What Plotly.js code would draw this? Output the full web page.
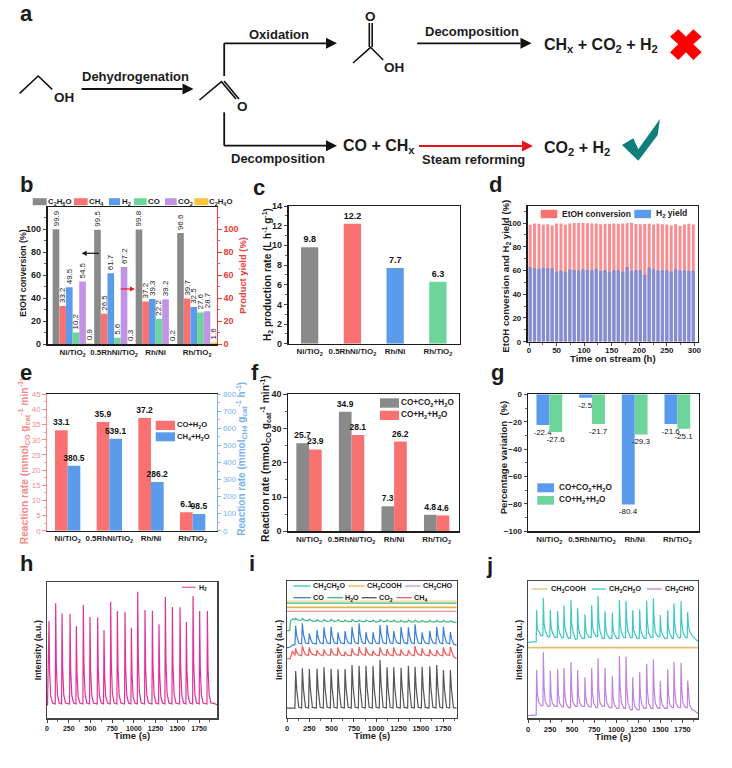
<!DOCTYPE html>
<html><head><meta charset="utf-8">
<script src="https://cdn.plot.ly/plotly-3.0.1.min.js"></script>
<style>html,body{margin:0;padding:0;background:#fff}#g{width:732px;height:768px}</style>
</head><body><div id="g"></div>
<script>
// ---------- data ----------
const catalysts = ['Ni/TiO<sub>2</sub>','0.5RhNi/TiO<sub>2</sub>','Rh/Ni','Rh/TiO<sub>2</sub>'];
const bNames = ['C<sub>2</sub>H<sub>6</sub>O','CH<sub>4</sub>','H<sub>2</sub>','CO','CO<sub>2</sub>','C<sub>2</sub>H<sub>4</sub>O'];
const bC2H6O = [99.9,99.5,99.8,96.6];
const bCH4 = [33.2,26.5,37.2,39.7];
const bH2 = [49.5,61.7,39.3,32.5];
const bCO = [10.2,5.6,22.2,27.6];
const bCO2 = [54.5,67.2,39.2,28.7];
const bC2H4O = [0.9,0.3,0.2,1.6];
const cRate = [9.8,12.2,7.7,6.3];
const dHours = [2,10,18,26,34,42,50,58,66,74,82,90,98,106,114,122,130,138,146,154,162,170,178,186,194,202,210,218,226,234,242,250,258,266,274,282,290,298];
const dConversion = [98.5,99.5,99.3,98.8,99,98,99.5,99.7,98.5,99.5,100,100,100,99.8,99.7,99.7,99,99.3,99.3,99.5,99.3,99.7,99.9,100,99.2,98.9,99.2,99.3,98.7,99.5,99,98.8,98,99,97.5,98.8,99.3,98.7];
const dYield = [63,62,61.5,62.5,62,62,59,60,59,61,60.5,60,61,60.5,60.5,61.5,59.5,60.5,59,60.5,60.5,59,63,59.5,60.5,60.5,56.5,62.5,61,60,60.5,60.5,59,61.5,60,60.5,59.5,60];
const eCO = [33.1,35.9,37.2,6.1];
const eCH4 = [380.5,539.1,286.2,98.5];
const fCO2 = [25.7,34.9,7.3,4.8];
const fH2 = [23.9,28.1,26.2,4.6];
const gCO2 = [-22.4,-2.5,-80.4,-21.6];
const gH2 = [-27.6,-21.7,-29.3,-25.1];

const hTime = [0,6,23,30,43,63, 95,100,107,120,140, 168,173,180,193,213, 260,265,272,285,305, 333,338,345,358,378, 413,418,425,438,458, 490,495,502,515,535, 578,583,590,603,623, 651,656,663,676,696, 728,733,740,753,773, 805,810,817,830,850, 893,898,905,918,938, 966,971,978,991,1011, 1039,1044,1051,1064,1084, 1123,1128,1135,1148,1168, 1208,1213,1220,1233,1253, 1284,1289,1296,1309,1329, 1357,1362,1369,1382,1402, 1438,1443,1450,1463,1483, 1526,1531,1538,1551,1571, 1599,1604,1611,1624,1644, 1676,1681,1688,1701,1721, 1752,1757,1764,1777,1797, 1841,1846,1853,1866,1886, 1920,1960];
const hH2 = [40,40,292,143,68,46, 43,345,164,73,46, 43,315,152,70,46, 43,313,151,70,46, 43,277,137,66,46, 43,340,162,73,46, 43,304,147,69,46, 43,303,147,69,46, 43,265,132,65,46, 43,350,166,74,46, 43,322,155,71,46, 43,320,154,71,46, 43,271,134,66,46, 43,380,178,77,46, 43,325,156,71,46, 43,323,155,71,46, 43,282,139,67,46, 43,364,171,75,46, 43,334,159,72,46, 43,333,159,72,46, 43,289,141,68,46, 43,367,173,75,46, 43,322,155,71,46, 43,322,155,71,46, 45,40];

const iTime = [0,30,38,60, 89,97,109,132, 164,172,184,207, 242,250,262,285, 329,337,349,372, 407,415,427,450, 486,494,506,529, 564,572,584,607, 643,651,663,686, 721,729,741,764, 800,808,820,843, 878,886,898,921, 957,965,977,1000, 1035,1043,1055,1078, 1114,1122,1134,1157, 1189,1197,1209,1232, 1271,1279,1291,1314, 1353,1361,1373,1396, 1428,1436,1448,1471, 1507,1515,1527,1550, 1593,1601,1613,1636, 1671,1679,1691,1714, 1746,1754,1766,1789, 1824,1832,1844,1867, 1903];
const iCO2 = [29,29,29,29, 29,140,84,31, 29,148,88,31, 29,146,87,31, 29,147,88,31, 29,151,90,31, 29,147,88,31, 29,145,87,31, 29,146,88,31, 29,158,94,31, 29,156,92,31, 29,156,92,31, 29,156,92,31, 29,173,101,31, 29,151,90,31, 29,151,90,31, 29,150,90,31, 29,156,92,31, 29,153,91,31, 29,153,91,31, 29,154,91,31, 29,158,94,31, 29,143,86,31, 29,143,86,30, 29];
const iCH4 = [176,176,178,200, 187,208,196,188, 186,216,203,189, 187,211,199,190, 187,203,195,189, 186,205,195,188, 187,208,197,189, 187,211,199,188, 186,198,192,187, 186,208,197,189, 187,213,200,190, 187,211,198,189, 187,201,194,188, 186,211,199,189, 187,206,196,188, 186,211,199,189, 187,205,196,188, 187,203,195,188, 186,215,201,190, 187,208,197,188, 186,205,195,188, 186,203,195,188, 186,211,198,189, 187,213,200,183, 177];
const iCO = [210,210,212,218, 219,276,246,224, 221,283,251,225, 222,253,238,224, 221,263,241,225, 222,271,246,225, 222,273,247,225, 222,256,238,224, 222,260,240,225, 222,273,247,225, 222,283,251,225, 222,257,238,225, 222,256,238,224, 222,278,249,225, 222,278,249,225, 222,260,240,225, 222,273,247,225, 222,271,246,225, 222,280,250,225, 222,256,238,224, 222,261,240,225, 222,273,246,225, 222,273,247,225, 222,257,238,222, 217];
const iH2O = [261,261,289,296, 294,298,296,292, 293,297,295,291, 291,296,294,290, 290,294,292,288, 290,294,292,289, 290,295,292,289, 290,294,292,288, 289,293,291,288, 289,294,292,288, 289,293,291,288, 289,293,291,288, 289,293,291,287, 289,294,292,288, 289,293,291,288, 289,293,291,287, 288,292,290,287, 288,293,291,287, 288,293,291,287, 288,292,290,287, 288,292,290,287, 288,292,290,287, 288,292,290,287, 288,291,289,286, 286];
const iFlatTime = [0,1903];
const iCH3CH2O = [344,344];
const iCH3COOH = [331,331];
const iCH3CHO = [319,319];
const iPale = [349,349];

const jTime = [0,88, 93,98,106,120,148, 169,174,182,196,224, 248,253,261,275,303, 331,336,344,358,386, 403,408,416,430,458, 482,487,495,509,537, 558,563,571,585,613, 641,646,654,668,696, 717,722,730,744,772, 789,794,802,816,844, 868,873,881,895,923, 951,956,964,978,1006, 1031,1036,1044,1058,1086, 1106,1111,1119,1133,1161, 1182,1187,1195,1209,1237, 1261,1266,1274,1288,1316, 1340,1345,1353,1367,1395, 1416,1421,1429,1443,1471, 1495,1500,1508,1522,1550, 1579,1584,1592,1606,1634, 1650,1655,1663,1677,1705, 1730,1735,1743,1757,1785, 1805,1810,1818,1832,1860, 1890,1927];
const jCH3CH2O = [228,228, 230,325,268,262,248, 248,362,285,262,245, 245,325,275,258,243, 243,322,272,256,241, 243,339,280,258,240, 240,355,285,262,237, 238,330,272,254,240, 240,312,268,252,243, 243,339,282,258,245, 245,367,295,262,240, 240,321,272,252,240, 240,317,270,252,240, 240,355,290,258,242, 242,352,292,262,242, 242,324,268,256,240, 240,327,272,254,240, 240,353,290,256,243, 243,360,295,258,245, 245,310,268,252,240, 240,325,272,254,240, 240,345,285,256,242, 242,351,288,258,242, 242,320,280,262,248, 240,230];
const jCH3CHO = [8,8, 10,145,75,48,38, 38,198,95,50,36, 36,143,72,46,36, 36,148,75,46,34, 34,151,78,46,32, 32,169,85,48,36, 36,144,72,46,36, 36,123,65,44,34, 34,151,78,46,32, 32,180,90,46,36, 36,151,78,46,32, 32,127,65,42,30, 30,188,95,48,30, 30,185,95,46,25, 25,123,65,36,26, 26,139,72,44,30, 30,164,85,46,30, 30,177,90,46,30, 30,112,62,40,30, 30,147,75,42,32, 32,170,88,46,32, 32,167,85,46,32, 32,113,78,40,26, 22,14];
const jFlatTime = [0,1927];
const jCH3COOH = [212,212];

// ---------- styling ----------
const W=732,H=768, FONT='"Liberation Sans", Arial, sans-serif';
const GRAY='#8a8a8a',RED='#f87272',BLUE='#5b9bec',GREEN='#6dd59a',PURPLE='#c193e4',YELLOW='#f7c63e';
const X=p=>p/W, Y=p=>1-p/H;
const dom=(a,b)=>[a/W,b/W], domY=(t,b)=>[1-b/H,1-t/H];
const INK='#1c1c1c';
const fnt=(s,c,w)=>({family:FONT,size:s,color:c||INK,weight:w===undefined?700:w});
const shapes=[],anns=[],traces=[];

function txt(x,y,text,size,opt){opt=opt||{};
  anns.push({xref:'paper',yref:'paper',x:X(x),y:Y(y),text,showarrow:false,xanchor:opt.anchor||'center',yanchor:'middle',
    font:fnt(size,opt.color,opt.weight),textangle:opt.angle||0,borderpad:0,borderwidth:0});}
const ytitle=(x,y,text,size,color)=>txt(x,y,text,size,{angle:-90,color});
function line(pts,color,w){shapes.push({type:'path',xref:'paper',yref:'paper',layer:'above',
  path:'M'+pts.map(p=>X(p[0])+','+Y(p[1])).join('L'),line:{color:color||'#111',width:w||1.5},fillcolor:'rgba(0,0,0,0)'});}
function poly(pts,color){shapes.push({type:'path',xref:'paper',yref:'paper',layer:'above',
  path:'M'+pts.map(p=>X(p[0])+','+Y(p[1])).join('L')+'Z',line:{width:0},fillcolor:color});}
function arrow(x0,y,x1,color,w,hl,hh){const d=x1>x0?1:-1;color=color||'#111';
  line([[x0,y],[x1-d*hl,y]],color,w);poly([[x1-d*hl,y-hh],[x1,y],[x1-d*hl,y+hh]],color);}
function swatch(x0,x1,y0,y1,c){shapes.push({type:'rect',xref:'paper',yref:'paper',layer:'above',x0:X(x0),x1:X(x1),y0:Y(y0),y1:Y(y1),line:{width:0},fillcolor:c});}
function legLine(x0,x1,y,c){line([[x0,y],[x1,y]],c,1.3);}

function bar(x,y,xa,ya,c,width,offset,text,tf){
  const t={type:'bar',x,y,xaxis:xa,yaxis:ya,marker:{color:c,line:{width:0}},width,offset,hoverinfo:'skip',cliponaxis:false,showlegend:false};
  if(text){t.text=y.map(String);t.textposition='outside';t.constraintext='none';t.textfont=tf||{family:FONT,size:9,color:'#111',weight:700};}
  return t;}
const lineTrace=(x,y,xa,ya,c,w)=>({type:'scatter',mode:'lines',x,y,xaxis:xa,yaxis:ya,line:{color:c,width:w||1.2},hoverinfo:'skip',showlegend:false});

const layout={width:W,height:H,margin:{l:0,r:0,t:0,b:0},paper_bgcolor:'#fff',plot_bgcolor:'#fff',showlegend:false,barmode:'overlay',font:{family:FONT,size:9,color:INK}};

function catX(d,anchor,r){return {domain:d,anchor,type:'category',categoryorder:'array',categoryarray:catalysts,range:r,dtick:1,tickangle:0,ticks:'',
  showline:true,linecolor:INK,linewidth:1.3,mirror:true,showgrid:false,zeroline:false,tickfont:fnt(7.9)};}
function numY(d,anchor,r,dt,mn,opt){opt=opt||{};
  return Object.assign({domain:d,anchor,range:r,dtick:dt,tick0:0,ticks:'outside',ticklen:3.5,tickwidth:1,minor:{ticks:'outside',dtick:mn,ticklen:2,tickwidth:.8,showgrid:false},
    showline:true,linecolor:INK,linewidth:1.3,mirror:true,showgrid:false,zeroline:false,tickfont:fnt(9)},opt);}
function timeX(d,anchor,r,size){return {domain:d,anchor,range:r,dtick:250,tick0:0,ticks:'outside',ticklen:3,tickwidth:1,minor:{ticks:'outside',dtick:125,ticklen:2,tickwidth:.8,showgrid:false},
  showline:true,linecolor:'#444',linewidth:1.2,mirror:true,showgrid:false,zeroline:false,tickfont:fnt(size)};}
function plainY(d,anchor,r){return {domain:d,anchor,range:r,ticks:'',showticklabels:false,showline:true,linecolor:'#444',linewidth:1.2,mirror:true,showgrid:false,zeroline:false};}

// ---------- b ----------
{const d=dom(47.7,217),dy=domY(207.3,344.3);
 layout.xaxis=catX(d,'y',[-0.6,3.48]);
 layout.yaxis=numY(dy,'x',[0,119],20,10,{mirror:false});
 layout.yaxis10={domain:dy,anchor:'x',overlaying:'y',side:'right',range:[0,119],dtick:20,tick0:0,ticks:'outside',ticklen:3.5,tickwidth:1,tickcolor:'#e93b3b',minor:{ticks:'outside',dtick:10,ticklen:2,tickwidth:.8,tickcolor:'#e93b3b'},
  showline:true,linecolor:'#e93b3b',linewidth:1.3,showgrid:false,zeroline:false,tickfont:fnt(9,'#e93b3b')};
 ytitle(22.7,273,'EtOH conversion (%)',8.8);
 ytitle(241.7,275,'Product yield (%)',9.4,'#e93b3b');
 const tf={family:FONT,size:8,color:'#222',weight:400};
 const mk=(v,ya,c,i)=>{const t=bar(catalysts,v,'x',ya,c,.16,-.48+.16*i,true,tf);t.textangle=-90;return t;};
 traces.push(mk(bC2H6O,'y',GRAY,0),mk(bCH4,'y10',RED,1),mk(bH2,'y10',BLUE,2),mk(bCO,'y10',GREEN,3),mk(bCO2,'y10',PURPLE,4),mk(bC2H4O,'y10',YELLOW,5));
 const sw=[[32.7,46.7],[74,87.7],[109,120],[134,146.7],[165,176.7],[194.3,208.3]];
 const lx=[47.7,89,121.7,147.7,178,209];
 const cs=[GRAY,RED,BLUE,GREEN,PURPLE,YELLOW];
 bNames.forEach((n,i)=>{swatch(sw[i][0],sw[i][1],198.2,205.2,cs[i]);txt(lx[i],201.7,n,7.8,{anchor:'left'});});
 arrow(99,253.3,81.7,'#111',1.2,5,2.6);arrow(120.7,289,135,'#f01c1c',1.2,5,2.6);
}
// ---------- c ----------
{layout.xaxis2=catX(dom(288.7,459.7),'y2',[-.49,3.51]);
 layout.yaxis2=numY(domY(206,343.7),'x2',[0,14],2,1);
 ytitle(267,275,'H<sub>2</sub> production rate (L h<sup>-1</sup> g<sup>-1</sup>)',10);
 catalysts.forEach((c,i)=>traces.push(bar([c],[cRate[i]],'x2','y2',[GRAY,RED,BLUE,GREEN][i],.405,-.2025,true,{family:FONT,size:9,color:'#111',weight:700})));
}
// ---------- d ----------
{layout.xaxis3={domain:dom(527.7,698),anchor:'y3',range:[-2.4,306.6],dtick:50,tick0:0,ticks:'outside',ticklen:3,tickwidth:1,ticklabelstandoff:-3,minor:{ticks:'outside',dtick:25,ticklen:2,tickwidth:.8},
   showline:true,linecolor:INK,linewidth:1.2,mirror:true,showgrid:false,zeroline:false,tickfont:fnt(8)};
 layout.yaxis3=numY(domY(205.7,341.7),'x3',[0,114.6],20,10,{tickfont:fnt(8)});
 ytitle(505.7,276,'EtOH conversion and H<sub>2</sub> yield (%)',9.6);
 txt(612.7,358.5,'Time on stream (h)',9.6);
 const r=bar(dHours,dConversion,'x3','y3','#f98d90',5.4,-2.7);
 const b=bar(dHours,dYield,'x3','y3','rgba(91,140,232,.72)',6.4,-3.2);
 traces.push(r,b);
 swatch(540.7,557.3,209.8,218.2,RED);txt(561.7,214,'EtOH conversion',8.5,{anchor:'left'});
 swatch(634.3,651,209.8,218.2,BLUE);txt(655.7,214,'H<sub>2</sub> yield',8.5,{anchor:'left'});
}
// ---------- e ----------
{const dy=domY(394.3,530.7);
 layout.xaxis4=catX(dom(47,217),'y4',[-.496,3.584]);
 layout.yaxis4=numY(dy,'x4',[0,45],5,2.5,{mirror:false,linecolor:'#f58a8a',tickcolor:'#f58a8a',tickfont:fnt(8,'#f58a8a',400)});
 layout.yaxis4.minor.tickcolor='#f58a8a';
 layout.yaxis11={domain:dy,anchor:'x4',overlaying:'y4',side:'right',range:[0,800],dtick:100,tick0:0,ticks:'outside',ticklen:3,tickwidth:1,tickcolor:'#79b1ef',minor:{ticks:'outside',dtick:50,ticklen:2,tickwidth:.8,tickcolor:'#79b1ef'},
  showline:true,linecolor:'#79b1ef',linewidth:1.3,showgrid:false,zeroline:false,tickfont:fnt(8,'#79b1ef',400)};
 ytitle(23.3,461,'Reaction rate (mmol<sub>CO</sub> g<sub>cat</sub><sup>-1</sup> min<sup>-1</sup>)',10.3,'#f58a8a');
 ytitle(240.7,459,'Reaction rate (mmol<sub>CH4</sub> g<sub>cat</sub><sup>-1</sup> h<sup>-1</sup>)',10,'#79b1ef');
 const tf={family:FONT,size:8.5,color:'#111',weight:700};
 traces.push(bar(catalysts,eCO,'x4','y4',RED,.304,-.304,true,tf),bar(catalysts,eCH4,'x4','y11',BLUE,.304,0,true,tf));
 swatch(155.7,175,420.7,430,RED);txt(177,425.3,'CO+H<sub>2</sub>O',7.6,{anchor:'left'});
 swatch(155.7,175,432.3,441.3,BLUE);txt(177,437,'CH<sub>4</sub>+H<sub>2</sub>O',7.6,{anchor:'left'});
}
// ---------- f ----------
{layout.xaxis5=catX(dom(288,459),'y5',[-.494,3.525]);
 layout.yaxis5=numY(domY(394.3,531.3),'x5',[0,40],10,5);
 ytitle(265,459,'Reaction rate (mmol<sub>CO</sub> g<sub>cat</sub><sup>-1</sup> min<sup>-1</sup>)',10.3);
 const tf={family:FONT,size:8.5,color:'#111',weight:700};
 traces.push(bar(catalysts,fCO2,'x5','y5',GRAY,.298,-.298,true,tf),bar(catalysts,fH2,'x5','y5',RED,.298,0,true,tf));
 swatch(380,399,398.3,407.7,GRAY);txt(401.3,403,'CO+CO<sub>2</sub>+H<sub>2</sub>O',8.2,{anchor:'left'});
 swatch(380,399,410.7,420,RED);txt(401.3,415.3,'CO+H<sub>2</sub>+H<sub>2</sub>O',8.2,{anchor:'left'});
}
// ---------- g ----------
{layout.xaxis6=catX(dom(528.3,698.7),'y6',[-.493,3.5]);
 layout.yaxis6=numY(domY(394.3,531.3),'x6',[-100,0],20,10,{tickfont:fnt(8)});
 ytitle(503.3,457,'Percentage variation  (%)',9.5);
 const tf={family:FONT,size:8,color:'#111',weight:400};
 traces.push(bar(catalysts,gCO2,'x6','y6',BLUE,.302,-.302,true,tf),bar(catalysts,gH2,'x6','y6',GREEN,.302,0,true,tf));
 swatch(537.3,554,483.3,492.3,BLUE);txt(558.7,488,'CO+CO<sub>2</sub>+H<sub>2</sub>O',8.2,{anchor:'left'});
 swatch(537.3,554,496,504.7,GREEN);txt(558.7,500.3,'CO+H<sub>2</sub>+H<sub>2</sub>O',8.2,{anchor:'left'});
}
// ---------- h ----------
{layout.xaxis7=timeX(dom(47,217.3),'y7',[0,1960],7);
 layout.yaxis7=plainY(domY(581.7,718.3),'x7',[0,410]);
 ytitle(38.3,650,'Intensity (a.u.)',8.9);txt(131.7,735.7,'Time (s)',9.5);
 traces.push(lineTrace(hTime,hH2,'x7','y7','#e0329a'));
 legLine(181.7,195.7,587.3,'#e85fae');txt(199,588,'H<sub>2</sub>',7,{anchor:'left'});
}
// ---------- i ----------
{layout.xaxis8=timeX(dom(287,456.7),'y8',[0,1903],7.5);
 layout.yaxis8=plainY(domY(580.7,717.7),'x8',[0,411]);
 ytitle(279,650,'Intensity (a.u.)',8.9);txt(371.7,735.7,'Time (s)',9.5);
 traces.push(lineTrace(iFlatTime,iPale,'x8','y8','#f3e5a8',2));
 traces.push(lineTrace(iFlatTime,iCH3CH2O,'x8','y8','#36b98d',1.2));
 traces.push(lineTrace(iFlatTime,iCH3COOH,'x8','y8','#e4b445',1.6));
 traces.push(lineTrace(iFlatTime,iCH3CHO,'x8','y8','#e09a8f',1.4));
 traces.push(lineTrace(iTime,iH2O,'x8','y8','#3dbb83'));
 traces.push(lineTrace(iTime,iCO,'x8','y8','#3b7fdc'));
 traces.push(lineTrace(iTime,iCH4,'x8','y8','#ee5b5b'));
 traces.push(lineTrace(iTime,iCO2,'x8','y8','#555555'));
 const s=7.2;
 legLine(293.3,310.7,586,'#37c6bb');txt(312.7,586,'CH<sub>3</sub>CH<sub>2</sub>O',s,{anchor:'left'});
 legLine(348.3,364.3,586,'#e4b445');txt(366.7,586,'CH<sub>3</sub>COOH',s,{anchor:'left'});
 legLine(405,420.3,586,'#c193e4');txt(423,586,'CH<sub>3</sub>CHO',s,{anchor:'left'});
 legLine(293.3,310.7,597.7,'#3b7fdc');txt(312.7,597.7,'CO',s,{anchor:'left'});
 legLine(327.3,343.3,597.7,'#3dbb83');txt(344.7,597.7,'H<sub>2</sub>O',s,{anchor:'left'});
 legLine(361.7,376.7,597.7,'#555555');txt(379,597.7,'CO<sub>2</sub>',s,{anchor:'left'});
 legLine(396.7,411.7,597.7,'#ee5b5b');txt(414,597.7,'CH<sub>4</sub>',s,{anchor:'left'});
}
// ---------- j ----------
{layout.xaxis9=timeX(dom(528,698),'y9',[0,1927],7.5);
 layout.yaxis9=plainY(domY(580.7,718.3),'x9',[0,413]);
 ytitle(519,650,'Intensity (a.u.)',8.9);txt(613.3,736.7,'Time (s)',9.5);
 traces.push(lineTrace(jFlatTime,jCH3COOH,'x9','y9','#e0c070',1.8));
 traces.push(lineTrace(jTime,jCH3CH2O,'x9','y9','#3cc8c4'));
 traces.push(lineTrace(jTime,jCH3CHO,'x9','y9','#bf83e0'));
 const s=7.2;
 legLine(531.7,547.3,589,'#e0c070');txt(551,589,'CH<sub>3</sub>COOH',s,{anchor:'left'});
 legLine(591.7,605.7,589,'#3cc8c4');txt(609.3,589,'CH<sub>3</sub>CH<sub>2</sub>O',s,{anchor:'left'});
 legLine(646.7,661.7,589,'#bf83e0');txt(665,589,'CH<sub>3</sub>CHO',s,{anchor:'left'});
}
// ---------- panel letters ----------
[['a',26,14],['b',26,185],['c',259,187],['d',495,185],['e',26,373],['f',255,372],['g',497,373],['h',26,563],['i',252,563],['j',489,565]]
 .forEach(l=>txt(l[1],l[2],l[0],22));

// ---------- scheme a ----------
const SW=1.6,LBL=13,CHEM=16,ATOM=13.5;
line([[19.6,93.3],[38.2,76],[52.2,89.3]],'#111',SW);txt(64,98,'OH',ATOM);
arrow(81.6,89,193.5,'#111',1.8,11,5.5);txt(135,76,'Dehydrogenation',LBL);
line([[199.5,100],[221.4,81.7],[236,99]],'#111',SW);line([[224,81],[239,99]],'#111',SW);txt(242.4,106,'O',ATOM);
line([[224.2,76],[224.2,43.3]],'#111',1.8);arrow(224.2,43.3,337,'#111',1.8,11,5.5);txt(278.8,34,'Oxidation',LBL);
line([[369.3,23],[369.3,47]],'#111',SW);line([[372.2,23],[372.2,47]],'#111',SW);txt(370.6,16.7,'O',ATOM);
line([[353,63],[370.6,47.3],[383.2,60]],'#111',SW);txt(394,68,'OH',ATOM);
arrow(417.2,43.3,531.5,'#111',1.8,11,5.5);txt(471.8,32,'Decomposition',LBL);
txt(601.4,45.7,'CH<sub>x</sub> + CO<sub>2</sub> + H<sub>2</sub>',CHEM);
poly([[678.3,29.3],[686,36.7],[693.3,29.3],[701.7,36.7],[693.3,44.3],[701.7,52.3],[693.3,60],[686,52.3],[678.3,60],[670,52.3],[678.3,44.3],[670,36.7]],'#ff0000');
line([[224.2,112.3],[224.2,145.7]],'#111',1.8);arrow(224.2,145.7,337,'#111',1.8,11,5.5);txt(278.3,158.7,'Decomposition',LBL);
txt(378.6,146.7,'CO + CH<sub>x</sub>',CHEM);
arrow(419,146,533,'#e8141c',1.8,11,5.5);txt(473,159.3,'Steam reforming',LBL);
txt(576.7,148,'CO<sub>2</sub> + H<sub>2</sub>',CHEM);
poly([[622,145],[633.3,138.3],[638.3,149.3],[660,119],[657.7,135],[638.3,160.7]],'#0f7f7c');

layout.shapes=shapes;layout.annotations=anns;
Plotly.newPlot('g',traces,layout,{staticPlot:true,displayModeBar:false});
</script></body></html>
